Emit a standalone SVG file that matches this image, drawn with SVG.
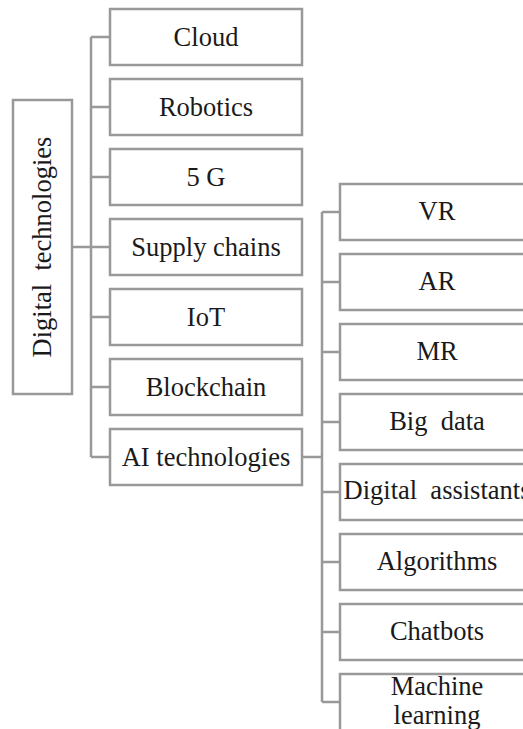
<svg xmlns="http://www.w3.org/2000/svg" width="523" height="729" viewBox="0 0 523 729">
<style>
.box{fill:#fff;stroke:#999;stroke-width:2.5}
.ln{fill:none;stroke:#999;stroke-width:2.5}
.t{font-family:'Liberation Serif','Tinos','Times New Roman','Times','Nimbus Roman','DejaVu Serif',serif;font-size:26.5px;fill:#1a1a1a;text-anchor:middle;white-space:pre}
</style>
<rect width="523" height="729" fill="#fff"/>
<g id="connectors">
<path class="ln" d="M72 247H110M91 37V457M91 37H110M91 107H110M91 177H110M91 317H110M91 387H110M91 457H110"/>
<path class="ln" d="M302 457H322M322 212V702M322 212H340M322 282H340M322 352H340M322 422H340M322 492H340M322 562H340M322 632H340M322 702H340"/>
</g>
<g class="t" font-family="Liberation Serif, serif">
<g id="digital-technologies"><rect class="box" x="13" y="100" width="59" height="294"/><text class="t" transform="translate(51,247) rotate(-90)">Digital  technologies</text></g>
<g id="cloud"><rect class="box" x="110" y="9" width="192" height="56"/><text class="t" x="206" y="46">Cloud</text></g>
<g id="robotics"><rect class="box" x="110" y="79" width="192" height="56"/><text class="t" x="206" y="116">Robotics</text></g>
<g id="5g"><rect class="box" x="110" y="149" width="192" height="56"/><text class="t" x="206" y="186">5 G</text></g>
<g id="supply-chains"><rect class="box" x="110" y="219" width="192" height="56"/><text class="t" x="206" y="256">Supply chains</text></g>
<g id="iot"><rect class="box" x="110" y="289" width="192" height="56"/><text class="t" x="206" y="326">IoT</text></g>
<g id="blockchain"><rect class="box" x="110" y="359" width="192" height="56"/><text class="t" x="206" y="396">Blockchain</text></g>
<g id="ai-technologies"><rect class="box" x="110" y="429" width="192" height="56"/><text class="t" x="206" y="466">AI technologies</text></g>
<g id="vr"><rect class="box" x="340" y="184" width="194" height="56"/><text class="t" x="437" y="220">VR</text></g>
<g id="ar"><rect class="box" x="340" y="254" width="194" height="56"/><text class="t" x="437" y="290">AR</text></g>
<g id="mr"><rect class="box" x="340" y="324" width="194" height="56"/><text class="t" x="437" y="360">MR</text></g>
<g id="big-data"><rect class="box" x="340" y="394" width="194" height="56"/><text class="t" x="437" y="430">Big  data</text></g>
<g id="digital-assistants"><rect class="box" x="340" y="464" width="194" height="56"/><text class="t" x="437" y="499">Digital  assistants</text></g>
<g id="algorithms"><rect class="box" x="340" y="534" width="194" height="56"/><text class="t" x="437" y="570">Algorithms</text></g>
<g id="chatbots"><rect class="box" x="340" y="604" width="194" height="56"/><text class="t" x="437" y="640">Chatbots</text></g>
<g id="machine-learning"><rect class="box" x="340" y="674" width="194" height="70"/><text class="t" x="437" y="695">Machine</text><text class="t" x="437" y="724">learning</text></g>
</g>
</svg>
